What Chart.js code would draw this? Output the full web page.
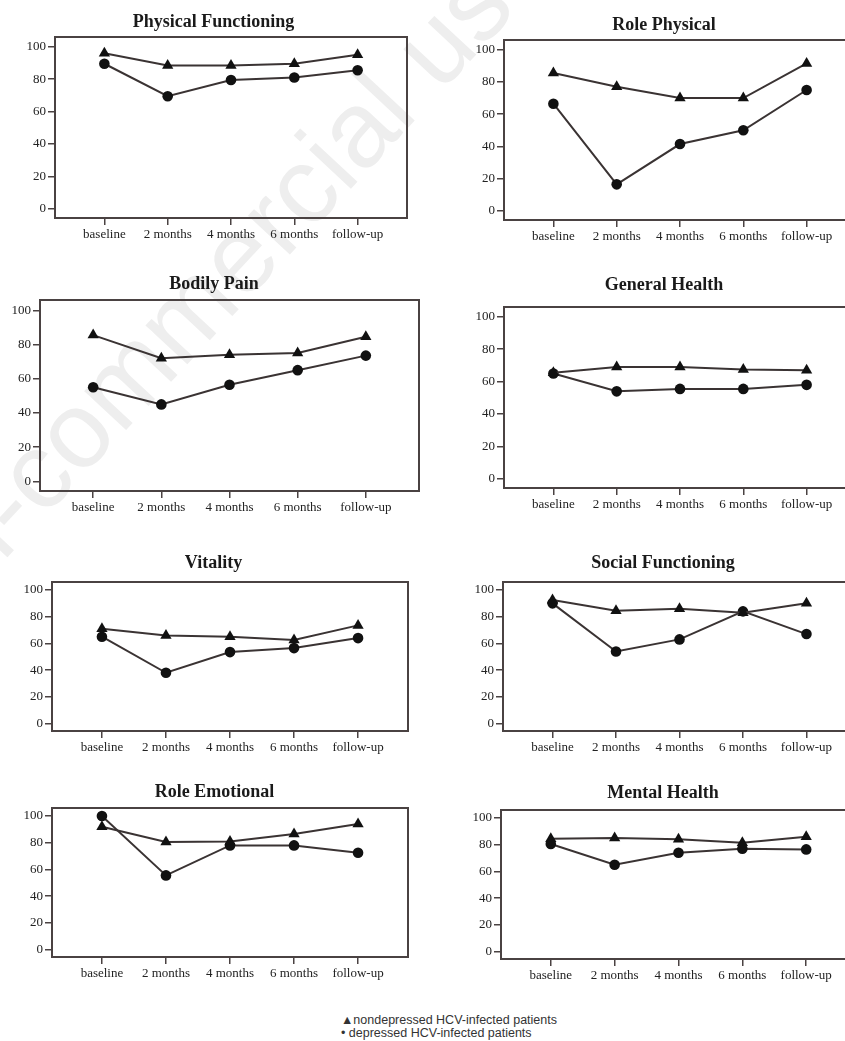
<!DOCTYPE html>
<html>
<head>
<meta charset="utf-8">
<script src="https://cdn.jsdelivr.net/npm/chart.js@4.4.1/dist/chart.umd.min.js"></script>
<style>
    html, body { margin: 0; padding: 0; background: #fff; }
    body { width: 845px; height: 1041px; position: relative; overflow: hidden; }
    canvas.panel { position: absolute; z-index: 1; }
    #watermark {
        position: absolute; left: -183px; top: 628px; z-index: 0;
        font: 108px 'Liberation Sans', Arial, sans-serif; line-height: 1;
        color: #eeeeee; white-space: nowrap;
        transform-origin: 0 0; transform: rotate(-47deg);
    }
    #legend {
        position: absolute; left: 341px; top: 1014px; z-index: 2;
        font: 12.5px 'Liberation Sans', Arial, sans-serif; line-height: 13px; color: #333;
    }
</style>
</head>
<body>
<div id="watermark">Non-commercial use only</div>
<div id="legend">
    <div>&#9650;nondepressed HCV-infected patients</div>
    <div>&#8226; depressed HCV-infected patients</div>
</div>
<script>
(function (window, document) {
    'use strict';

    var timepoints = ['baseline', '2 months', '4 months', '6 months', 'follow-up'];
    var yTicks = [0, 20, 40, 60, 80, 100];

    // triangles = nondepressed, circles = depressed
    var physicalNondep = [96, 88.5, 88.5, 89.5, 95];
    var physicalDep = [89.5, 69.5, 79.5, 81, 85.5];
    var rolePhysNondep = [85.5, 77, 70, 70, 91.5];
    var rolePhysDep = [66.5, 16.5, 41.5, 50, 75];
    var painNondep = [85.5, 72, 74, 75, 84.5];
    var painDep = [55, 45, 56.5, 65, 73.5];
    var healthNondep = [65.5, 69, 69, 67.5, 67];
    var healthDep = [65, 54, 55.5, 55.5, 58];
    var vitalityNondep = [71, 66, 65, 62.5, 73.5];
    var vitalityDep = [65, 38, 53.5, 56.5, 64];
    var socialNondep = [92.5, 84.5, 86, 83, 90];
    var socialDep = [90, 54, 63, 84, 67];
    var roleEmoNondep = [92, 80.5, 81, 86.5, 94];
    var roleEmoDep = [100, 55.5, 78, 78, 72.5];
    var mentalNondep = [84.5, 85, 84, 81.5, 86];
    var mentalDep = [80.5, 65, 74, 77, 76.5];

    // box = plot frame [left, top, right, bottom]; left = canvas left; gap = title centre to frame
    var panels = [
        { title: 'Physical Functioning', nondep: physicalNondep, dep: physicalDep, box: [55, 37, 407, 218], left: 20, gap: 15 },
        { title: 'Role Physical', nondep: rolePhysNondep, dep: rolePhysDep, box: [504, 40, 856, 220], left: 472, gap: 15 },
        { title: 'Bodily Pain', nondep: painNondep, dep: painDep, box: [40, 300, 419, 491], left: 9, gap: 16 },
        { title: 'General Health', nondep: healthNondep, dep: healthDep, box: [504, 307, 856, 488], left: 472, gap: 22 },
        { title: 'Vitality', nondep: vitalityNondep, dep: vitalityDep, box: [52, 582, 408, 731], left: 19, gap: 19 },
        { title: 'Social Functioning', nondep: socialNondep, dep: socialDep, box: [503, 582, 856, 731], left: 470, gap: 19 },
        { title: 'Role Emotional', nondep: roleEmoNondep, dep: roleEmoDep, box: [52, 808, 408, 957], left: 21, gap: 16 },
        { title: 'Mental Health', nondep: mentalNondep, dep: mentalDep, box: [501, 810, 856, 959], left: 470, gap: 17 }
    ];

    var frameColor = '#4a4242';
    var lineColor = '#3a3333';
    var markColor = '#111';
    var serif = "'Liberation Serif', 'Times New Roman', serif";
    var titleSize = 18;

    var framePlugin = {
        id: 'plotFrame',
        beforeDatasetsDraw: function (chart) {
            var a = chart.chartArea;
            var ctx = chart.ctx;
            ctx.save();
            ctx.strokeStyle = frameColor;
            ctx.lineWidth = 2;
            ctx.strokeRect(a.left, a.top, a.right - a.left, a.bottom - a.top);
            ctx.restore();
        }
    };

    function toPoints(values) {
        return values.map(function (v, i) {
            return { x: i, y: v };
        });
    }

    function buildPanel(p) {
        var box = p.box;
        var axisW = box[0] - p.left;
        var axisH = 28;
        var lineH = titleSize * 1.2;
        var padBottom = p.gap - lineH / 2;
        var top = Math.round(box[1] - p.gap - lineH / 2 - 4);
        var padTop = box[1] - top - lineH - padBottom;
        var width = box[2] - p.left + 2;
        var height = box[3] + axisH - top;

        var canvas = document.createElement('canvas');
        canvas.className = 'panel';
        canvas.width = width;
        canvas.height = height;
        canvas.style.left = p.left + 'px';
        canvas.style.top = top + 'px';
        canvas.style.width = width + 'px';
        canvas.style.height = height + 'px';
        document.body.appendChild(canvas);

        var tickFont = { family: serif, size: 13 };

        return new Chart(canvas, {
            type: 'line',
            data: {
                datasets: [
                    {
                        label: 'nondepressed HCV-infected patients',
                        data: toPoints(p.nondep),
                        borderColor: lineColor,
                        borderWidth: 2,
                        pointStyle: 'triangle',
                        pointRadius: 6.5,
                        pointBorderWidth: 0,
                        pointBackgroundColor: markColor,
                        tension: 0
                    },
                    {
                        label: 'depressed HCV-infected patients',
                        data: toPoints(p.dep),
                        borderColor: lineColor,
                        borderWidth: 2,
                        pointStyle: 'circle',
                        pointRadius: 5.3,
                        pointBorderWidth: 0,
                        pointBackgroundColor: markColor,
                        tension: 0
                    }
                ]
            },
            options: {
                responsive: false,
                animation: false,
                events: [],
                layout: { autoPadding: false, padding: { left: 0, top: 0, right: 2, bottom: 0 } },
                plugins: {
                    legend: { display: false },
                    tooltip: { enabled: false },
                    title: {
                        display: true,
                        text: p.title,
                        color: '#1a1a1a',
                        font: { family: serif, size: titleSize, weight: 'bold' },
                        padding: { top: padTop, bottom: padBottom }
                    }
                },
                scales: {
                    x: {
                        type: 'linear',
                        min: -0.78,
                        max: 4.78,
                        afterBuildTicks: function (scale) {
                            scale.ticks = timepoints.map(function (t, i) {
                                return { value: i };
                            });
                        },
                        afterFit: function (scale) {
                            scale.height = axisH;
                        },
                        ticks: {
                            autoSkip: false,
                            maxRotation: 0,
                            padding: 2,
                            color: '#222',
                            font: tickFont,
                            callback: function (value) {
                                return timepoints[value];
                            }
                        },
                        grid: { drawOnChartArea: false, tickLength: 7, color: frameColor, lineWidth: 1.5 },
                        border: { display: false }
                    },
                    y: {
                        min: -5.6,
                        max: 106,
                        afterBuildTicks: function (scale) {
                            scale.ticks = yTicks.map(function (v) {
                                return { value: v };
                            });
                        },
                        afterFit: function (scale) {
                            scale.width = axisW;
                        },
                        ticks: { padding: 2, color: '#222', font: tickFont },
                        grid: { drawOnChartArea: false, tickLength: 7, color: frameColor, lineWidth: 1.5 },
                        border: { display: false }
                    }
                }
            },
            plugins: [framePlugin]
        });
    }

    panels.forEach(buildPanel);
})(window, document);
</script>
</body>
</html>
